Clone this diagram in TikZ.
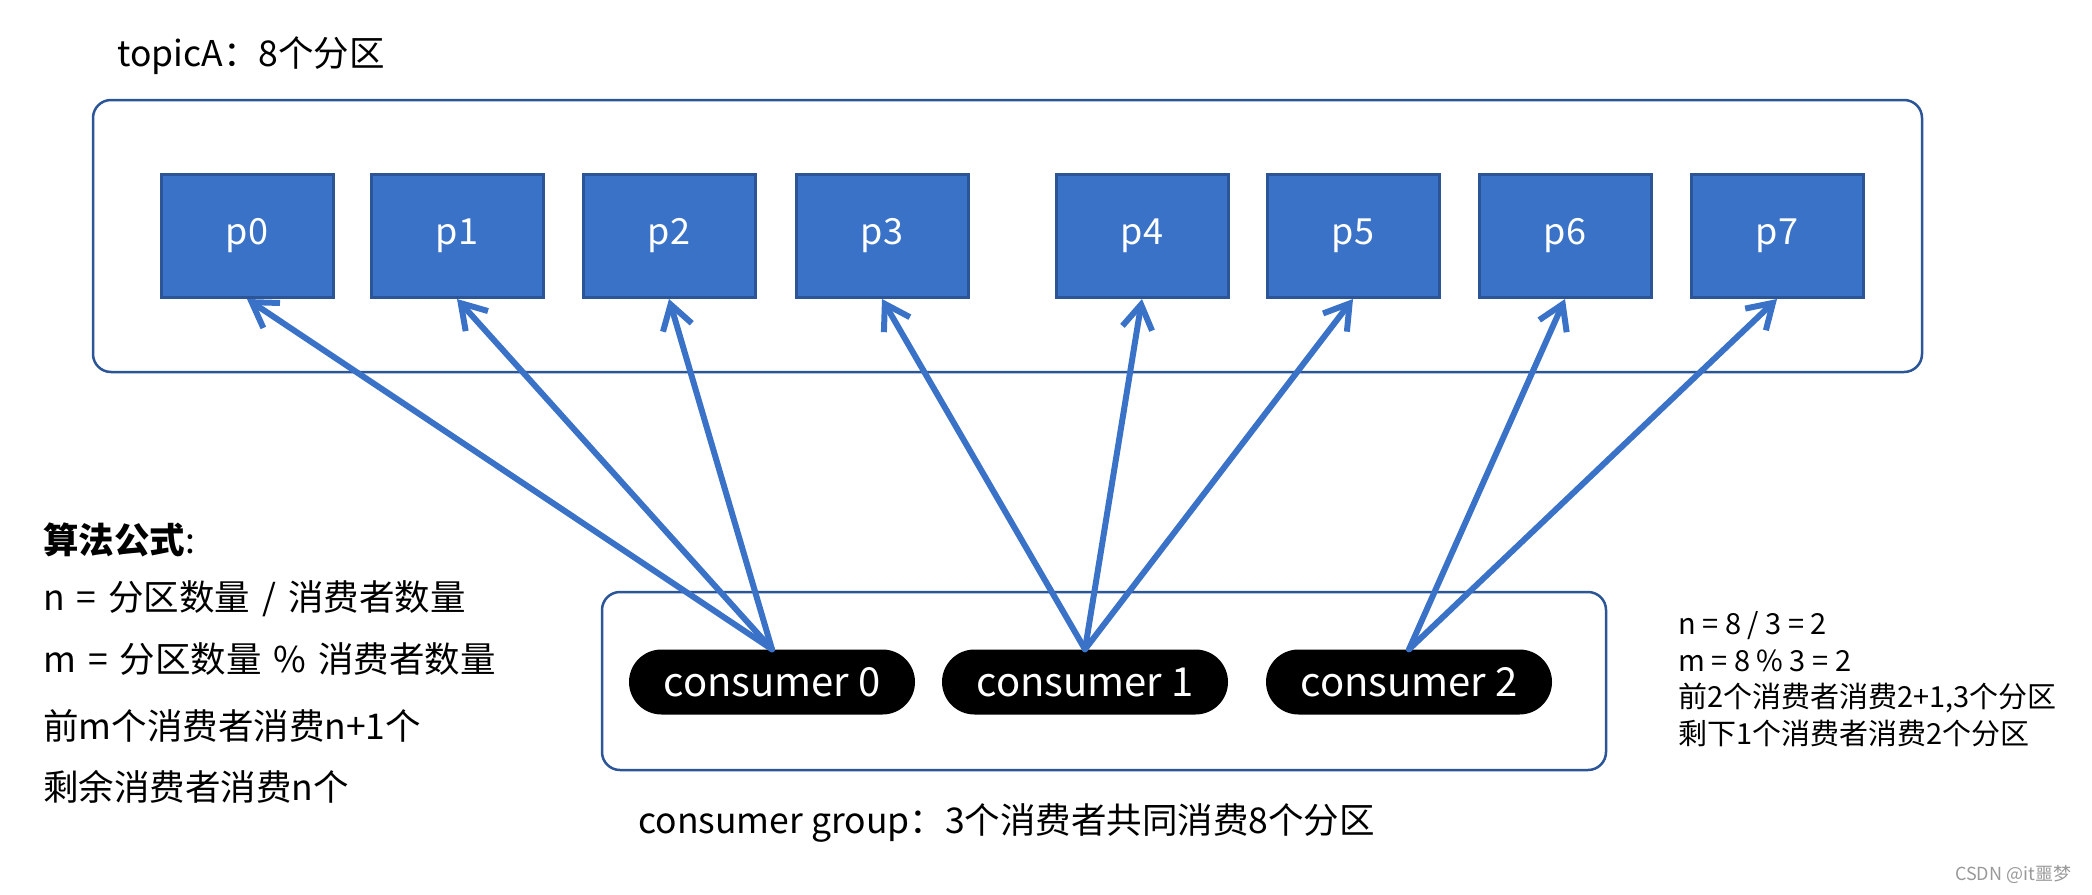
\documentclass[tikz,border=0pt]{standalone}
\usepackage{fontspec}
\setmainfont{Noto Sans CJK SC}
\newfontfamily\widespaced{Noto Sans CJK SC}[WordSpace=1.5]
\usetikzlibrary{arrows.meta,shapes.misc}
\definecolor{partblue}{HTML}{3A72C8}
\definecolor{partedge}{HTML}{2B5597}
\tikzstyle{partition}=[rectangle,fill=partblue,draw=partedge,line width=3pt,minimum width=172pt,minimum height=123pt,inner sep=0pt,text=white,font=\fontsize{36}{40}\selectfont]
\tikzstyle{consumer}=[rounded rectangle,fill=black,minimum width=286pt,minimum height=65pt,inner sep=0pt,text=white,font=\fontsize{40}{44}\selectfont]
\tikzstyle{groupbox}=[draw=partedge,line width=2.5pt,rounded corners=18pt]
\tikzstyle{assign}=[draw=partblue,line width=6pt,line cap=round,-{Straight Barb[length=24pt,width=30pt]}]
\tikzstyle{plaintext}=[anchor=west,inner sep=0pt,font=\fontsize{35.5}{42}\selectfont]

\begin{document}
\begin{tikzpicture}[x=1pt,y=-1pt]
    \useasboundingbox (0,0) rectangle (2092,894);

    % topic with 8 partitions
    \draw[groupbox] (93,100) rectangle (1922,372);
    \node[plaintext] (topiclabel) at (117,56) {topicA：8个分区};
    \foreach \pos/ \name in {{(247,236)/p0},{(457,236)/p1},{(669,236)/p2},{(882,236)/p3},
                             {(1142,236)/p4},{(1353,236)/p5},{(1565,236)/p6},{(1777,236)/p7}}
        \node[partition] (\name) at \pos {\name};

    % consumer group
    \draw[groupbox] (602,592) rectangle (1606,770);
    \foreach \pos/ \name/ \num in {{(772,682)/c0/0},{(1085,682)/c1/1},{(1409,682)/c2/2}}
        \node[consumer] (\name) at \pos {consumer \num};
    \node[plaintext] (grouplabel) at (638,823) {consumer group：3个消费者共同消费8个分区};

    % which consumer gets which partition
    \foreach \source/ \dest in {c0/p0, c0/p1, c0/p2, c1/p3, c1/p4, c1/p5, c2/p6, c2/p7}
        \path[assign] (\source.north) -- (\dest.south);

    % formula on the left
    \node[plaintext] (formula) at (43,540) {\textbf{算法公式}:};
    \node[plaintext] (rulen) at (43,599) {\widespaced n = 分区数量 / 消费者数量};
    \node[plaintext] (rulem) at (43,659) {\widespaced m = 分区数量 \% 消费者数量};
    \node[plaintext] (rulefirst) at (43,726) {前m个消费者消费n+1个};
    \node[plaintext] (rulerest) at (43,787) {剩余消费者消费n个};

    % worked example on the right
    \node[plaintext,align=left,font=\fontsize{29}{36.5}\selectfont] (example) at (1678,679)
        {n = 8 / 3 = 2\\ m = 8 \% 3 = 2\\ 前2个消费者消费2+1,3个分区\\ 剩下1个消费者消费2个分区};

    \node[plaintext,text=black!40,font=\fontsize{18}{20}\selectfont] (mark) at (1955,874) {CSDN @it噩梦};
\end{tikzpicture}
\end{document}
